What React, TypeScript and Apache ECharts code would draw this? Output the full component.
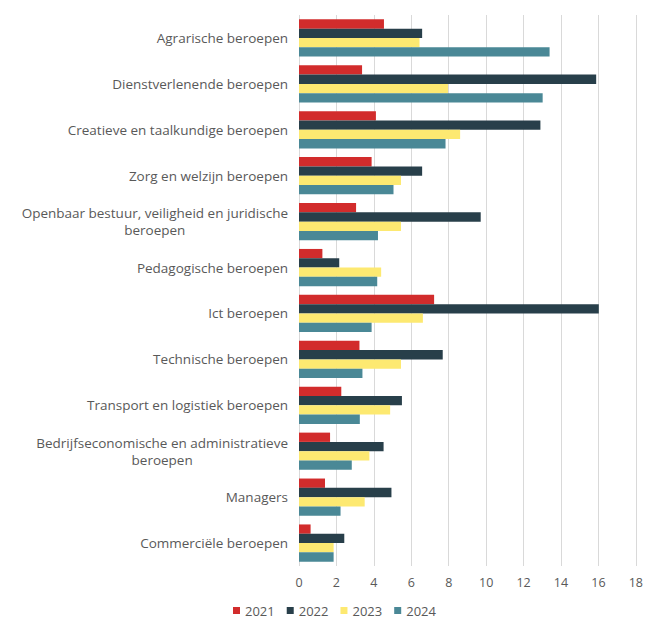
import React, { useEffect, useRef } from "react";
import * as echarts from "echarts";

const categories = [
  "Agrarische beroepen",
  "Dienstverlenende beroepen",
  "Creatieve en taalkundige beroepen",
  "Zorg en welzijn beroepen",
  "Openbaar bestuur, veiligheid en juridische\nberoepen",
  "Pedagogische beroepen",
  "Ict beroepen",
  "Technische beroepen",
  "Transport en logistiek beroepen",
  "Bedrijfseconomische en administratieve\nberoepen",
  "Managers",
  "Commerciële beroepen",
];

const years = ["2021", "2022", "2023", "2024"];

const values2021 = [4.54, 3.37, 4.11, 3.88, 3.05, 1.25, 7.22, 3.23, 2.26, 1.66, 1.39, 0.62];
const values2022 = [6.58, 15.88, 12.9, 6.58, 9.71, 2.15, 16.02, 7.68, 5.5, 4.52, 4.94, 2.42];
const values2023 = [6.44, 7.96, 8.61, 5.45, 5.45, 4.39, 6.62, 5.45, 4.87, 3.76, 3.51, 1.85];
const values2024 = [13.39, 13.02, 7.83, 5.05, 4.22, 4.18, 3.88, 3.39, 3.25, 2.82, 2.22, 1.85];

const xTicks = [0, 2, 4, 6, 8, 10, 12, 14, 16, 18];

const colors = ["#D22C2C", "#283F4A", "#FDE971", "#4A8896"];

const FONT = "'Open Sans', sans-serif";

export default function App() {
  const ref = useRef<HTMLDivElement>(null);

  useEffect(() => {
    if (!ref.current) return;
    const chart = echarts.init(ref.current, undefined, { renderer: "svg" });
    const seriesData = [values2021, values2022, values2023, values2024];
    chart.setOption({
      animation: false,
      textStyle: { fontFamily: FONT },
      grid: { left: 299, right: 7, top: 15, bottom: 53, containLabel: false },
      legend: {
        data: years,
        top: 602,
        left: 228,
        padding: [2, 5],
        itemWidth: 7,
        itemHeight: 7,
        itemGap: 12,
        icon: "rect",
        textStyle: { color: "#595959", fontSize: 13, fontFamily: FONT },
      },
      xAxis: {
        type: "value",
        min: xTicks[0],
        max: xTicks[xTicks.length - 1],
        interval: 2,
        axisLine: { show: false },
        axisTick: { show: false },
        splitLine: { show: true, lineStyle: { color: "#D9D9D9", width: 1 } },
        axisLabel: { color: "#595959", fontSize: 12.5, margin: 10, fontFamily: FONT },
      },
      yAxis: {
        type: "category",
        data: categories,
        inverse: true,
        axisLine: { show: false },
        axisTick: { show: false },
        axisLabel: {
          color: "#595959",
          fontSize: 13.5,
          margin: 11,
          fontFamily: FONT,
          formatter: (v: string) =>
            v
              .split("\n")
              .map((l) => `{c|${l}}`)
              .join("\n"),
          rich: {
            c: { align: "center", color: "#595959", fontSize: 13.5, lineHeight: 17, fontFamily: FONT },
          },
        },
      },
      series: years.map((y, i) => ({
        name: y,
        type: "bar",
        data: seriesData[i],
        barGap: "0%",
        barCategoryGap: "19%",
        itemStyle: { color: colors[i] },
      })),
    });
    return () => chart.dispose();
  }, []);

  return (
    <div
      ref={ref}
      style={{ position: "fixed", left: 0, top: 0, width: 646, height: 619, background: "#fff" }}
    />
  );
}
